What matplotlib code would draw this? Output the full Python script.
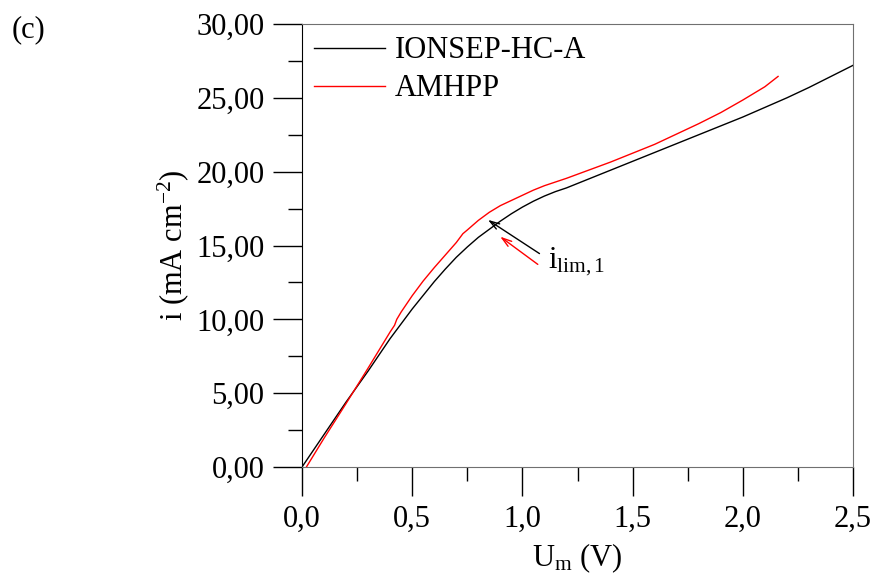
import matplotlib.pyplot as plt
from matplotlib.ticker import MultipleLocator, FuncFormatter

# IONSEP-HC-A polarisation curve
u_ionsep = [0.0, 0.1, 0.2, 0.3, 0.4, 0.5, 0.6, 0.65, 0.7, 0.75, 0.8, 0.85, 0.9, 0.95,
            1.0, 1.05, 1.1, 1.15, 1.2, 1.3, 1.4, 1.5, 1.6, 1.7, 1.8, 1.9, 2.0, 2.1,
            2.2, 2.3, 2.4, 2.5]
i_ionsep = [0.0, 2.2, 4.4, 6.5, 8.7, 10.7, 12.55, 13.4, 14.2, 14.9, 15.55, 16.1, 16.65, 17.15,
            17.6, 18.0, 18.35, 18.65, 18.9, 19.5, 20.1, 20.7, 21.3, 21.9, 22.5, 23.1,
            23.7, 24.35, 25.0, 25.7, 26.45, 27.2]

# AMHPP polarisation curve
u_amhpp = [0.02, 0.1, 0.2, 0.3, 0.4, 0.42, 0.43, 0.45, 0.5, 0.55, 0.6, 0.65, 0.7, 0.72,
           0.73, 0.75, 0.8, 0.85, 0.9, 0.95, 1.0, 1.05, 1.1, 1.2, 1.3, 1.4, 1.5, 1.6,
           1.7, 1.8, 1.9, 2.0, 2.1, 2.16]
i_amhpp = [0.0, 1.95, 4.3, 6.7, 9.15, 9.6, 10.0, 10.5, 11.6, 12.6, 13.5, 14.35, 15.2, 15.6,
           15.8, 16.05, 16.7, 17.25, 17.7, 18.05, 18.4, 18.75, 19.05, 19.55, 20.1, 20.65, 21.25,
           21.85, 22.55, 23.25, 24.0, 24.85, 25.75, 26.45]

plt.rcParams['font.family'] = ['Liberation Serif', 'DejaVu Serif']
plt.rcParams['mathtext.fontset'] = 'custom'
plt.rcParams['mathtext.rm'] = 'Liberation Serif'
plt.rcParams['mathtext.it'] = 'Liberation Serif'
fs = 22

fig = plt.figure(figsize=(8.73, 5.76), dpi=100)
ax = fig.add_axes([302/873, 1 - 467/576, (853-302)/873, (467-24)/576])

ax.plot(u_ionsep, i_ionsep, color='black', lw=1.0, label='IONSEP-HC-A')
ax.plot(u_amhpp, i_amhpp, color='red', lw=1.0, label='AMHPP')

ax.set_xlim(0, 2.5)
ax.set_ylim(0, 30)
ax.xaxis.set_major_locator(MultipleLocator(0.5))
ax.xaxis.set_minor_locator(MultipleLocator(0.25))
ax.yaxis.set_major_locator(MultipleLocator(5))
ax.yaxis.set_minor_locator(MultipleLocator(2.5))
ax.xaxis.set_major_formatter(FuncFormatter(lambda v, p: f'{v:.1f}'.replace('.', ',')))
ax.yaxis.set_major_formatter(FuncFormatter(lambda v, p: f'{v:.2f}'.replace('.', ',')))
ax.tick_params(which='major', direction='out', length=21, width=1, labelsize=fs, pad=6)
ax.tick_params(which='minor', direction='out', length=10, width=1)

for s in ['top', 'right', 'bottom']:
    ax.spines[s].set_color('#707070')
ax.spines['left'].set_color('black')

ax.set_xlabel('U$_\\mathrm{m}$ (V)', fontsize=fs, labelpad=6)
ax.set_ylabel('i (mA cm$^{\\mathrm{-2}}$)', fontsize=fs, labelpad=4)

ax.legend(loc='upper left', frameon=False, fontsize=fs, handlelength=2.3,
          handletextpad=0.35, labelspacing=0.3, borderaxespad=0.1, borderpad=0.3)

ax.annotate('', xy=(0.833, 16.84), xytext=(1.088, 14.35),
            arrowprops=dict(arrowstyle='->,head_length=0.7,head_width=0.22', color='black', lw=1.0))
ax.annotate('', xy=(0.889, 15.71), xytext=(1.080, 13.61),
            arrowprops=dict(arrowstyle='->,head_length=0.7,head_width=0.22', color='red', lw=1.0))
ax.text(1.115, 13.9, 'i$_\\mathrm{lim,1}$', fontsize=fs, ha='left', va='center')

fig.text(12/873, 1 - 30/576, '(c)', fontsize=fs, ha='left', va='center')

fig.savefig('out.png', dpi=100)
